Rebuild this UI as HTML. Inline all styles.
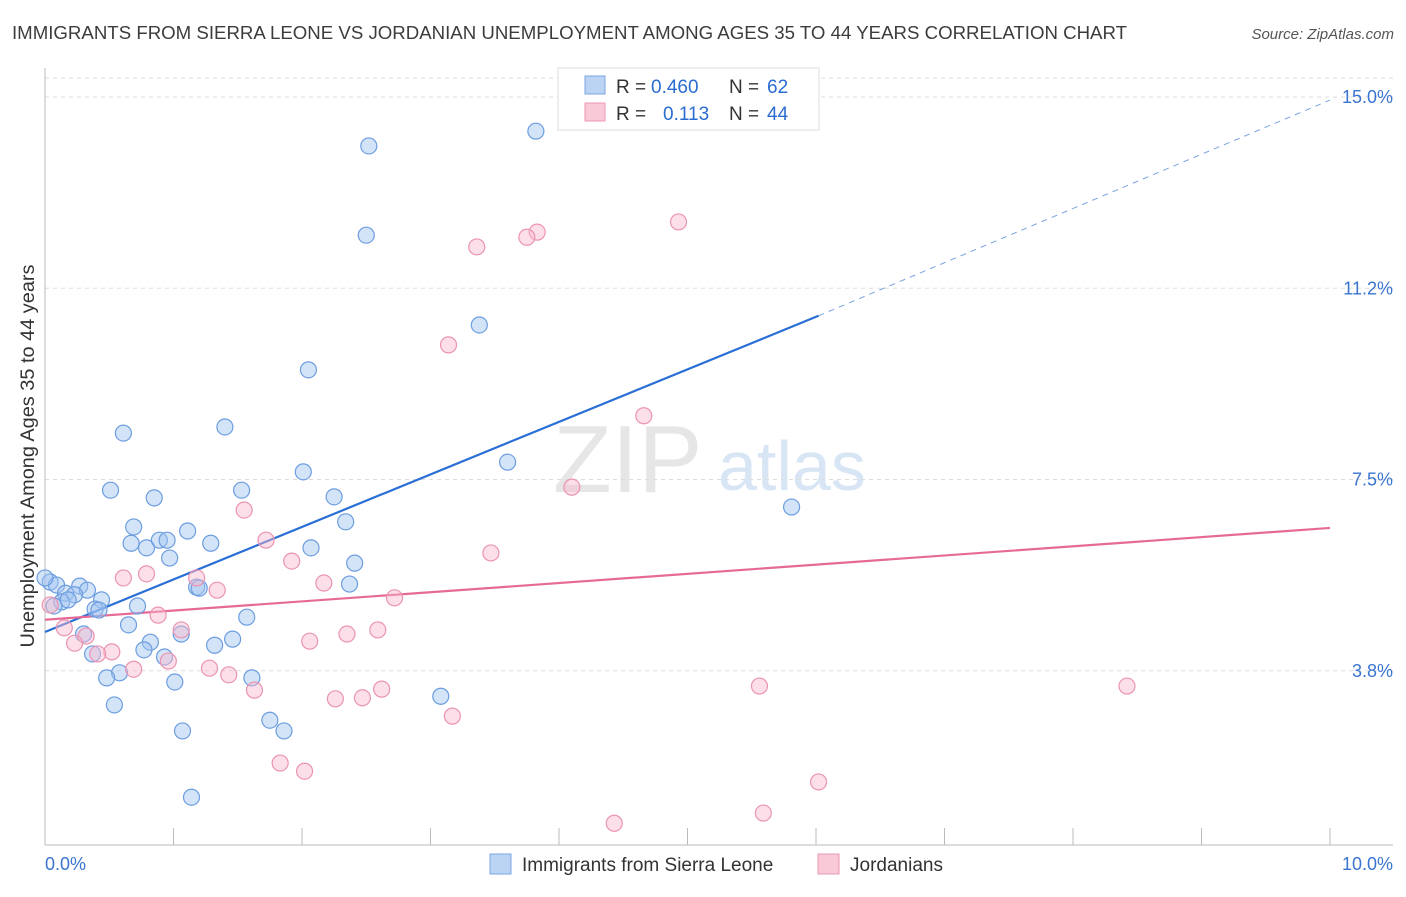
<!DOCTYPE html>
<html><head><meta charset="utf-8"><style>
body{margin:0;background:#fff;font-family:"Liberation Sans",sans-serif;}
svg text{font-family:"Liberation Sans",sans-serif;}
</style></head><body>
<svg id="chart" width="1406" height="892" xmlns="http://www.w3.org/2000/svg">
<text x="12" y="39" font-size="18" fill="#3c3c3c" textLength="1115" lengthAdjust="spacingAndGlyphs">IMMIGRANTS FROM SIERRA LEONE VS JORDANIAN UNEMPLOYMENT AMONG AGES 35 TO 44 YEARS CORRELATION CHART</text>
<text x="1394" y="39" font-size="15" fill="#555" text-anchor="end" font-style="italic">Source: ZipAtlas.com</text>
<text x="553" y="492" font-size="96" fill="#e6e6e6" font-family="Liberation Serif">ZIP</text>
<text x="718" y="490" font-size="70" fill="#d8e5f4">atlas</text>
<text transform="translate(34,456) rotate(-90)" font-size="19" fill="#333" text-anchor="middle" textLength="383" lengthAdjust="spacingAndGlyphs">Unemployment Among Ages 35 to 44 years</text>
<g id="grid"></g><g id="axes"></g><g id="lines"></g><g id="pts"></g>
<g>
<rect x="558" y="68" width="261" height="62" fill="#fff" stroke="#ddd"/>
<rect x="585" y="76" width="20" height="18" fill="#bcd4f4" stroke="#7aa6e0"/>
<rect x="585" y="103" width="20" height="18" fill="#f9c9d8" stroke="#ec97b4"/>
<text x="616" y="93" font-size="19" fill="#333">R =</text>
<text x="651" y="93" font-size="19" fill="#2a6cd0">0.460</text>
<text x="729" y="93" font-size="19" fill="#333">N =</text>
<text x="767" y="93" font-size="19" fill="#2a6cd0">62</text>
<text x="616" y="120" font-size="19" fill="#333">R =</text>
<text x="663" y="120" font-size="19" fill="#2a6cd0">0.113</text>
<text x="729" y="120" font-size="19" fill="#333">N =</text>
<text x="767" y="120" font-size="19" fill="#2a6cd0">44</text>
</g>
<g>
<rect x="490" y="854" width="21" height="20" fill="#bcd4f4" stroke="#7aa6e0"/>
<text x="522" y="871" font-size="19" fill="#333">Immigrants from Sierra Leone</text>
<rect x="818" y="854" width="21" height="20" fill="#f9c9d8" stroke="#ec97b4"/>
<text x="850" y="871" font-size="19" fill="#333">Jordanians</text>
</g>
</svg>
<script>
const xTicks=[0,1,2,3,4,5,6,7,8,9,10];
const yTicks=[3.75,7.5,11.25,15];
const yTickLabels=["3.8%","7.5%","11.2%","15.0%"];
const blueX=[3.82,2.52,2.50,3.38,2.05,0.61,1.40,3.60,5.81,0.51,0.85,1.53,2.01,2.25,2.34,0.69,1.11,0.89,0.95,0.67,0.79,1.29,2.07,0.97,2.41,0.04,0.09,0.27,0.33,0.16,0.23,0.44,0.13,0.18,0.07,0.39,0.42,0.72,1.18,1.20,2.37,1.57,0.65,0.30,1.06,0.82,1.32,1.46,0.77,0.37,0.93,0.58,0.48,1.61,1.01,3.08,0.54,1.75,1.86,1.07,1.14,0];
const blueY=[14.33,14.04,12.29,10.53,9.65,8.41,8.53,7.84,6.96,7.29,7.14,7.29,7.65,7.16,6.67,6.57,6.49,6.31,6.31,6.25,6.16,6.25,6.16,5.96,5.86,5.49,5.43,5.41,5.33,5.27,5.24,5.14,5.10,5.14,5.02,4.96,4.94,5.02,5.39,5.37,5.45,4.80,4.65,4.47,4.47,4.31,4.25,4.37,4.16,4.08,4.02,3.71,3.61,3.61,3.53,3.25,3.08,2.78,2.57,2.57,1.27,5.57];
const pinkX=[4.93,3.83,3.75,3.36,3.14,4.66,4.10,1.55,1.72,3.47,1.92,0.79,0.61,1.18,2.17,1.34,2.72,0.88,0.15,1.06,2.35,2.59,0.32,2.06,0.23,0.52,0.41,0.96,0.69,1.28,1.43,1.63,2.62,2.26,2.47,3.17,5.56,8.42,1.83,2.02,6.02,4.43,5.59,0.04];
const pinkY=[12.55,12.35,12.25,12.06,10.14,8.75,7.35,6.90,6.31,6.06,5.90,5.65,5.57,5.57,5.47,5.33,5.18,4.84,4.59,4.55,4.47,4.55,4.43,4.33,4.29,4.12,4.08,3.94,3.78,3.80,3.67,3.37,3.39,3.20,3.22,2.86,3.45,3.45,1.94,1.78,1.57,0.76,0.96,5.04];
const blueTrend=[[0,4.51],[6.02,10.71]];
const blueTrendExt=[[6.02,10.71],[10,14.94]];
const pinkTrend=[[0,4.75],[10,6.55]];
const sx=v=>45+v*128.5, sy=v=>97+(15-v)*51;
const NS="http://www.w3.org/2000/svg";
function mk(t,a,p){const e=document.createElementNS(NS,t);for(const k in a)e.setAttribute(k,a[k]);p.appendChild(e);return e;}
const grid=document.getElementById('grid'),axes=document.getElementById('axes'),lines=document.getElementById('lines'),pts=document.getElementById('pts');
mk('line',{x1:45,x2:1393,y1:78,y2:78,stroke:'#ddd','stroke-dasharray':'4,4'},grid);
yTicks.forEach((t,i)=>{
 const l=mk('line',{x1:45,x2:1393,y1:sy(t),y2:sy(t),stroke:'#ddd','stroke-dasharray':'4,4'},grid);
 
 
 const tx=mk('text',{x:1393,y:sy(t)+6,'font-size':18,fill:'#3a74d0','text-anchor':'end'},axes);
 tx.textContent=yTickLabels[i];
 
 
});
mk('line',{x1:45,x2:45,y1:68,y2:845,stroke:'#bbb'},axes);
mk('line',{x1:45,x2:1393,y1:845,y2:845,stroke:'#bbb'},axes);
xTicks.forEach(t=>{
 const l=mk('line',{x1:sx(t),x2:sx(t),y1:828,y2:845,stroke:'#bbb'},axes);
 
 
});
[["0.0%",45,'start'],["10.0%",1393,'end']].forEach(d=>{
 const tx=mk('text',{x:d[1],y:870,'font-size':18,fill:'#3a74d0','text-anchor':d[2]},axes);
 tx.textContent=d[0];
 
 
});
function pc(x,y,fill,stroke,name){
 const c=mk('circle',{cx:sx(x),cy:sy(y),r:8,fill:fill,stroke:stroke,'stroke-width':1.2},pts);
 
 
}
blueX.forEach((x,i)=>pc(x,blueY[i],'rgba(160,195,240,0.45)','#6c9de0','sierra-leone-point'));
pinkX.forEach((x,i)=>pc(x,pinkY[i],'rgba(248,185,205,0.45)','#eb94b2','jordanian-point'));
function ln(p,stroke,w,dash,name){
 const l=mk('line',{x1:sx(p[0][0]),y1:sy(p[0][1]),x2:sx(p[1][0]),y2:sy(p[1][1]),stroke:stroke,'stroke-width':w},lines);
 if(dash)l.setAttribute('stroke-dasharray',dash);
 
 
}
ln(blueTrend,'#2a6fd6',2.2,null,'sierra-leone-trendline');
ln(blueTrendExt,'#7aa3e0',1,'6,5','sierra-leone-trendline-extension');
ln(pinkTrend,'#e66a97',2.2,null,'jordanian-trendline');
</script>
</body></html>
